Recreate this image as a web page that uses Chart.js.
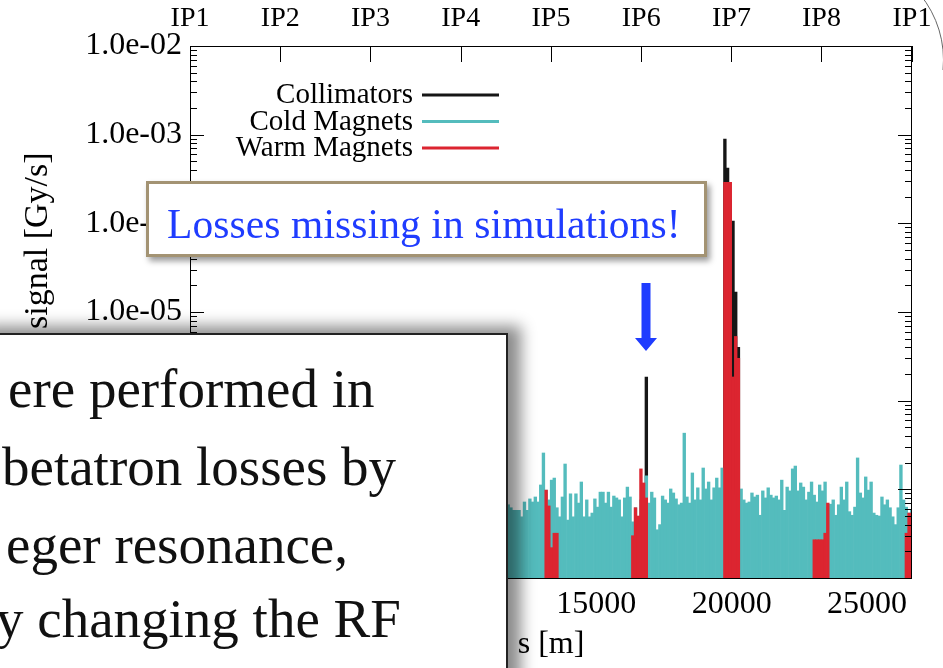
<!DOCTYPE html>
<html>
<head>
<meta charset="utf-8">
<script src="https://cdn.jsdelivr.net/npm/chart.js@4/dist/chart.umd.min.js"></script>
<style>
  body { margin: 0; background: #fff; }
  #page { position: relative; width: 943px; height: 668px; overflow: hidden; background: #fff; }
  #data { position: absolute; left: 0; top: 0; }
  .serif { font-family: "Liberation Serif", "Times New Roman", serif; }
  #ylabel {
    position: absolute; left: 18px; top: 329px; font-size: 34px; line-height: 36px;
    white-space: nowrap; transform-origin: 0 0; transform: rotate(-90deg); color: #000;
  }
  #callout {
    position: absolute; left: 146px; top: 181px; width: 561px; height: 76px; box-sizing: border-box;
    background: #fff; border: 3px solid #a39373; box-shadow: 3px 4px 6px rgba(0,0,0,0.4);
  }
  #callout span {
    position: absolute; left: 18px; top: 19px; font-size: 41.5px; line-height: 42px;
    color: #1f3cff; white-space: nowrap; letter-spacing: 0.1px;
  }
  #arrow { position: absolute; left: 630px; top: 280px; }
  #textbox {
    position: absolute; left: -20px; top: 333px; width: 528px; height: 400px; box-sizing: border-box;
    background: #fff; border: 2px solid #222; box-shadow: 9px -3px 14px 4px rgba(0,0,0,0.45);
  }
  .line { position: absolute; font-size: 55px; line-height: 55px; color: #111; white-space: nowrap; }
  #arc { position: absolute; left: 900px; top: 0; width: 43px; height: 70px; overflow: hidden; }
  #arc div {
    position: absolute; left: -164px; top: -44px; width: 208px; height: 208px;
    border: 1.5px solid #666; border-radius: 50%; box-sizing: border-box;
  }
</style>
</head>
<body>
<div id="page">
  <canvas id="data" width="943" height="668"></canvas>
  <div id="ylabel" class="serif">signal [Gy/s]</div>
  <div id="callout" class="serif"><span>Losses missing in simulations!</span></div>
  <svg id="arrow" width="32" height="75" viewBox="0 0 32 75">
    <polygon points="11.5,3 20.5,3 20.5,58 27,58 16,71 5,58 11.5,58" fill="#1f3cff"/>
  </svg>
  <div id="textbox"></div>
  <div class="line serif" style="left:8px; top:361px">ere performed in</div>
  <div class="line serif" style="left:2px; top:439px">betatron losses by</div>
  <div class="line serif" style="left:6px; top:517px">eger resonance,</div>
  <div class="line serif" style="left:-4px; top:591px">y changing the RF</div>
  <div id="arc"><div></div></div>
</div>
<script>
const container = document.getElementById("data")

// histogram binning along the ring
const binWidth = 100
const ringLength = 26659

const xTickValues = [0, 5000, 10000, 15000, 20000, 25000]
const yTickValues = [1e-8, 1e-7, 1e-6, 1e-5, 1e-4, 1e-3, 1e-2]
const ipLabels = ["IP1", "IP2", "IP3", "IP4", "IP5", "IP6", "IP7", "IP8", "IP1"]
const ipPositions = [0, 3332.4, 6664.7, 9997.0, 13329.3, 16661.7, 19994.2, 23315.4, 26658.9]

// Cold magnets, one value per bin starting at bin 114
const coldFirstBin = 114
const coldValues = [
    6.5e-8, 8.0e-8, 7.0e-8, 6.7e-8, 6.2e-8, 5.8e-8, 5.8e-8, 5.8e-8, 4.9e-8, 7.2e-8,
    5.8e-8, 7.8e-8, 7.2e-8, 8.2e-8, 7.2e-8, 1.12e-7, 2.57e-7, 9.8e-8, 7.6e-8, 1.27e-7,
    1.34e-7, 6.2e-8, 4.9e-8, 8.2e-8, 1.93e-7, 4.5e-8, 8.9e-8, 4.9e-8, 8.9e-8, 7.0e-8,
    1.21e-7, 4.9e-8, 7.6e-8, 4.9e-8, 5.4e-8, 7.8e-8, 6.3e-8, 9.3e-8, 9.3e-8, 7.0e-8,
    9.3e-8, 6.3e-8, 8.4e-8, 8.0e-8, 7.6e-8, 4.9e-8, 8.0e-8, 1.06e-7, 8.2e-8, 4.3e-8,
    6.2e-8, 4.5e-8, 7.6e-8, 9.8e-8, 1.42e-7, 7.0e-8, 9.3e-8, 8.0e-8, 3.5e-8, 4.0e-8,
    8.4e-8, 7.6e-8, 7.0e-8, 1.01e-7, 9.1e-8, 7.8e-8, 6.7e-8, 7.0e-8, 4.3e-7, 8.2e-8,
    7.0e-8, 1.53e-7, 7.6e-8, 1.04e-7, 7.6e-8, 1.74e-7, 1.01e-7, 1.21e-7, 7.6e-8, 1.04e-7,
    1.34e-7, 1.04e-7, 1.74e-7, 1.6e-7, 1.27e-7, 9.8e-8, 9.8e-8, 8.6e-8, 8.6e-8, 1.01e-7,
    7.6e-8, 7.0e-8, 7.2e-8, 9.1e-8, 8.2e-8, 8.6e-8, 5.1e-8, 9.6e-8, 8.0e-8, 1.04e-7,
    8.6e-8, 8.0e-8, 8.4e-8, 7.6e-8, 1.27e-7, 5.8e-8, 1.06e-7, 9.6e-8, 1.70e-7, 1.83e-7,
    9.6e-8, 1.18e-7, 1.06e-7, 7.6e-8, 9.3e-8, 1.21e-7, 8.6e-8, 7.2e-8, 1.12e-7, 9.6e-8,
    1.21e-7, 6.3e-8, 6.8e-8, 7.6e-8, 5.1e-8, 6.7e-8, 1.06e-7, 7.6e-8, 1.21e-7, 5.6e-8,
    5.1e-8, 6.3e-8, 2.26e-7, 9.1e-8, 8.0e-8, 1.38e-7, 9.8e-8, 1.21e-7, 5.4e-8, 5.1e-8,
    5.0e-8, 8.2e-8, 6.7e-8, 7.6e-8, 6.2e-8, 4.9e-8, 4.0e-8, 6.2e-8, 1.88e-7, 7.6e-8,
    6.3e-8, 5.4e-8, 5.8e-8
]

// Warm magnets
const warmBins = [131, 132, 133, 134, 135, 163, 164, 165, 166, 167, 168,
    197, 198, 199, 200, 201, 202, 230, 231, 232, 233, 234, 235, 264, 265, 266]
const warmValues = [9.8e-8, 6.5e-8, 2.2e-8, 3.2e-8, 3.2e-8, 3.0e-8, 6.2e-8, 5.0e-8, 1.70e-7, 1.18e-7, 8.0e-8,
    2.9e-4, 2.9e-4, 2.9e-4, 1.85e-6, 5.3e-6, 3.0e-6, 2.7e-8, 2.7e-8, 2.7e-8, 2.7e-8, 3.2e-8, 7.0e-8,
    3.2e-8, 5.4e-8, 5.4e-8]

// Collimators
const collBins = [168, 197, 198, 199, 200, 201, 202]
const collValues = [1.85e-6, 8.9e-4, 4.2e-4, 1.83e-4, 1.06e-4, 1.68e-5, 4.0e-6]

const binCenter = k => k * binWidth + binWidth / 2

const coldData = coldValues.map((v, i) => ({ x: binCenter(coldFirstBin + i), y: v }))
const warmData = warmBins.map((k, i) => ({ x: binCenter(k), y: warmValues[i] }))
const collData = collBins.map((k, i) => ({ x: binCenter(k), y: collValues[i] }))

const expLabel = v => v.toExponential(1).replace(/e([+-])(\d)$/, "e$10$2")

// inward ticks and plot frame, gnuplot style
const frameTicks = {
    id: "frameTicks",
    afterDatasetsDraw(chart) {
        const { ctx, chartArea: a, scales } = chart
        ctx.save()
        ctx.strokeStyle = "#000"
        ctx.lineWidth = 1
        ctx.beginPath()
        yTickValues.forEach((v, i) => {
            const y = Math.round(scales.y.getPixelForValue(v)) + 0.5
            ctx.moveTo(a.left, y); ctx.lineTo(a.left + 14, y)
            ctx.moveTo(a.right, y); ctx.lineTo(a.right - 14, y)
            if (i < yTickValues.length - 1) {
                for (let m = 2; m < 10; m++) {
                    const ym = Math.round(scales.y.getPixelForValue(v * m)) + 0.5
                    ctx.moveTo(a.left, ym); ctx.lineTo(a.left + 7, ym)
                    ctx.moveTo(a.right, ym); ctx.lineTo(a.right - 7, ym)
                }
            }
        })
        ipPositions.forEach(s => {
            const x = Math.round(scales.x2.getPixelForValue(s)) + 0.5
            ctx.moveTo(x, a.top); ctx.lineTo(x, a.top + 16)
        })
        ctx.stroke()
        ctx.strokeRect(a.left + 0.5, a.top + 0.5, a.right - a.left - 1, a.bottom - a.top)
        ctx.restore()
    }
}

// legend inside the plot: text first, line sample after it
const innerLegend = {
    id: "innerLegend",
    afterDraw(chart) {
        const { ctx, chartArea: a } = chart
        ctx.save()
        ctx.font = '29px "Liberation Serif", serif'
        ctx.textAlign = "right"
        ctx.textBaseline = "alphabetic"
        chart.data.datasets.forEach((ds, i) => {
            const y = a.top + 57 + i * 26.5
            ctx.fillStyle = "#000"
            ctx.fillText(ds.label, a.left + 223, y)
            ctx.strokeStyle = ds.backgroundColor
            ctx.lineWidth = 3
            ctx.beginPath()
            ctx.moveTo(a.left + 232, y - 8)
            ctx.lineTo(a.left + 309, y - 8)
            ctx.stroke()
        })
        ctx.restore()
    }
}

Chart.defaults.font.family = '"Liberation Serif", "Times New Roman", serif'
Chart.defaults.color = "#000"

const data = {
    datasets: [
        {
            label: "Collimators",
            data: collData,
            backgroundColor: "#161616",
            order: 3
        },
        {
            label: "Cold Magnets",
            data: coldData,
            backgroundColor: "#54bcbd",
            order: 2
        },
        {
            label: "Warm Magnets",
            data: warmData,
            backgroundColor: "#dc2530",
            order: 1
        }
    ]
}

const config = {
    type: "bar",
    data: data,
    options: {
        responsive: false,
        animation: false,
        layout: { padding: { left: 0, right: 31, top: 0, bottom: 0 } },
        datasets: {
            bar: { grouped: false, barPercentage: 1, categoryPercentage: 1, borderWidth: 0 }
        },
        scales: {
            x: {
                type: "linear",
                position: "bottom",
                min: 0,
                max: ringLength,
                offset: false,
                grid: { display: false, drawTicks: false },
                border: { display: false },
                afterBuildTicks: scale => { scale.ticks = xTickValues.map(v => ({ value: v })) },
                afterFit: scale => { scale.height = 90 },
                ticks: { font: { size: 32 }, padding: 7, maxRotation: 0, autoSkip: false, callback: v => String(v) },
                title: { display: true, text: "s [m]", font: { size: 32 }, padding: { top: 0, bottom: 4 } }
            },
            x2: {
                type: "linear",
                position: "top",
                min: 0,
                max: ringLength,
                offset: false,
                grid: { display: false, drawTicks: false },
                border: { display: false },
                afterBuildTicks: scale => { scale.ticks = ipPositions.map(v => ({ value: v })) },
                afterFit: scale => { scale.height = 46 },
                ticks: { font: { size: 28 }, padding: 11, maxRotation: 0, autoSkip: false, callback: (v, i) => ipLabels[i] }
            },
            y: {
                type: "logarithmic",
                min: 1e-8,
                max: 1e-2,
                grid: { display: false, drawTicks: false },
                border: { display: false },
                afterBuildTicks: scale => { scale.ticks = yTickValues.map(v => ({ value: v })) },
                afterFit: scale => { scale.width = 190 },
                ticks: { font: { size: 32 }, padding: 8, autoSkip: false, callback: v => expLabel(v) }
            }
        },
        plugins: {
            legend: { display: false },
            tooltip: { enabled: false }
        }
    },
    plugins: [frameTicks, innerLegend]
}

const myChart = new Chart(container, config)
</script>
</body>
</html>
